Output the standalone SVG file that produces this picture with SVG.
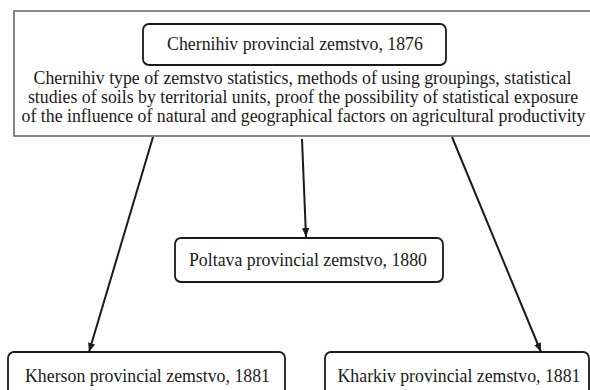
<svg xmlns="http://www.w3.org/2000/svg" width="590" height="390" viewBox="0 0 590 390">
<style>
text{font-family:"Liberation Serif","Times New Roman",serif;font-size:17.8px;fill:#1a1a1a;text-anchor:middle}
.node{fill:#fff;stroke:#1a1a1a;stroke-width:1.8}
.outer{fill:#fff;stroke:#6a6a6a;stroke-width:1.6}
.edge{stroke:#1a1a1a;stroke-width:2;fill:none;marker-end:url(#ah)}
</style>
<defs>
<marker id="ah" viewBox="0 0 10 8" refX="10" refY="4" markerWidth="4.5" markerHeight="3.6" orient="auto" markerUnits="strokeWidth">
<path d="M0,0 L10,4 L0,8 z" fill="#1a1a1a"/>
</marker>
</defs>
<rect width="590" height="390" fill="#fff"/>
<g id="chernihiv">
<rect class="outer" x="14" y="11" width="590" height="125"/>
<rect class="node" x="143" y="24" width="303" height="41" rx="6"/>
<text x="295" y="50">Chernihiv provincial zemstvo, 1876</text>
<text x="302.5" y="84">Chernihiv type of zemstvo statistics, methods of using groupings, statistical</text>
<text x="303" y="103">studies of soils by territorial units, proof the possibility of statistical exposure</text>
<text x="303.5" y="122">of the influence of natural and geographical factors on agricultural productivity</text>
</g>
<g id="connectors">
<path class="edge" d="M153,137 L89,352"/>
<path class="edge" d="M302,139 L306,237"/>
<path class="edge" d="M452,137 L541,352"/>
</g>
<g id="poltava">
<rect class="node" x="175" y="238" width="268" height="44" rx="6"/>
<text x="308" y="266">Poltava provincial zemstvo, 1880</text>
</g>
<g id="kherson">
<rect class="node" x="8" y="352" width="277" height="50" rx="6"/>
<text x="147.5" y="382">Kherson provincial zemstvo, 1881</text>
</g>
<g id="kharkiv">
<rect class="node" x="325" y="352" width="264" height="50" rx="6"/>
<text x="459" y="382">Kharkiv provincial zemstvo, 1881</text>
</g>
</svg>
